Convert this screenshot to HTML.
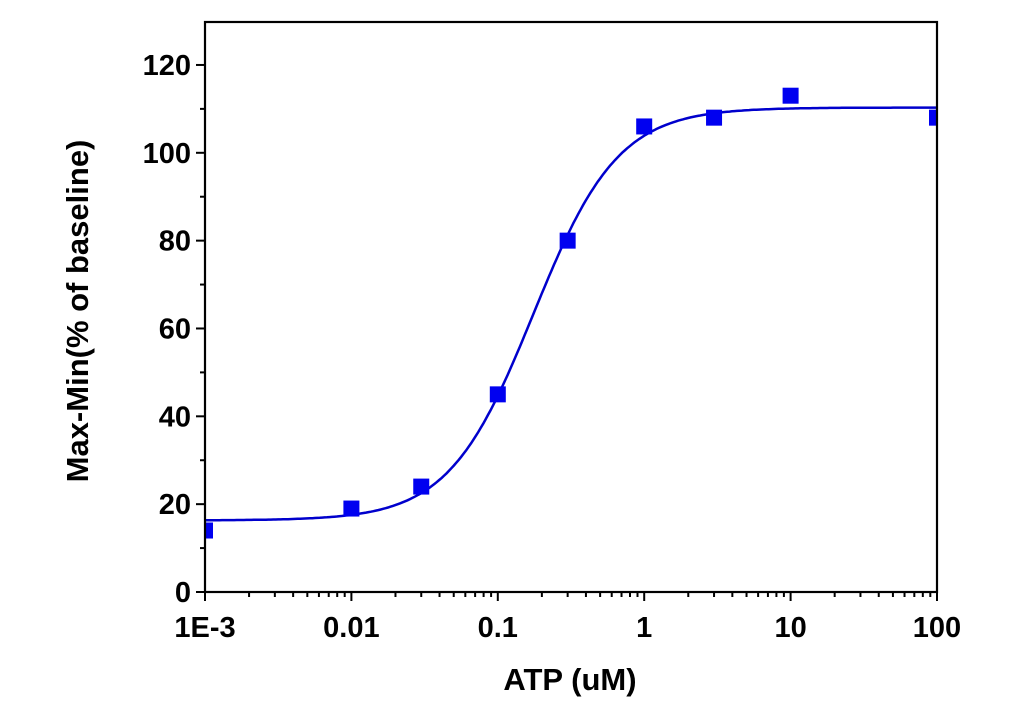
<!DOCTYPE html>
<html><head><meta charset="utf-8"><style>
html,body{margin:0;padding:0;background:#fff;}
svg{display:block;font-family:"Liberation Sans",Arial,sans-serif;font-weight:bold;}
</style></head><body>
<svg id="s" width="1026" height="711" viewBox="0 0 1026 711" xmlns="http://www.w3.org/2000/svg">
<defs><clipPath id="c"><rect x="205" y="22" width="732" height="570"/></clipPath></defs>
<g id="ticks" stroke="#000" stroke-width="2"></g>
<g clip-path="url(#c)">
<path id="curve" fill="none" stroke="#0000CC" stroke-width="2.5"/>
<g id="pts" fill="#0000F0"></g>
</g>
<rect x="205" y="22" width="732" height="570" fill="none" stroke="#000" stroke-width="2.2"/>
<g font-size="29" text-anchor="end" id="yl"></g>
<g font-size="29" text-anchor="middle" id="xl"></g>
<text x="570" y="690" font-size="31" text-anchor="middle">ATP (uM)</text>
<text transform="translate(88,311) rotate(-90)" font-size="31" text-anchor="middle">Max-Min(% of baseline)</text>
</svg>
<script>
var NS="http://www.w3.org/2000/svg";
function X(v){return 205+(Math.log10(v)+3)*146.4;}
function Y(v){return 592-v*4.392;}
function el(p,t,a,txt){var e=document.createElementNS(NS,t);for(var k in a)e.setAttribute(k,a[k]);if(txt!==undefined)e.textContent=txt;document.getElementById(p).appendChild(e);}
for(var v=0;v<=120;v+=10){var l=v%20==0?9:5;el("ticks","line",{x1:205-l,x2:205,y1:Y(v),y2:Y(v)});if(v%20==0)el("yl","text",{x:191,y:Y(v)+10},""+v);}
var labs=["1E-3","0.01","0.1","1","10","100"];
for(var d=-3;d<=2;d++){el("ticks","line",{x1:X(Math.pow(10,d)),x2:X(Math.pow(10,d)),y1:592,y2:601});el("xl","text",{x:X(Math.pow(10,d)),y:637},labs[d+3]);
if(d<2)for(var m=2;m<=9;m++){var x=X(m*Math.pow(10,d));el("ticks","line",{x1:x,x2:x,y1:592,y2:597});}}
var dpath="";for(var i=0;i<=300;i++){var lx=-3+5*i/300,c=Math.pow(10,lx);var y=16.3+94/(1+Math.pow(0.175/c,1.5));dpath+=(i?"L":"M")+X(c).toFixed(1)+","+Y(y).toFixed(1);}
document.getElementById("curve").setAttribute("d",dpath);
var data=[[0.001,14],[0.01,19],[0.03,24],[0.1,45],[0.3,80],[1,106],[3,108],[10,113],[100,108]];
data.forEach(function(p){el("pts","rect",{x:X(p[0])-8,y:Y(p[1])-8,width:16,height:16});});
</script>
</body></html>
